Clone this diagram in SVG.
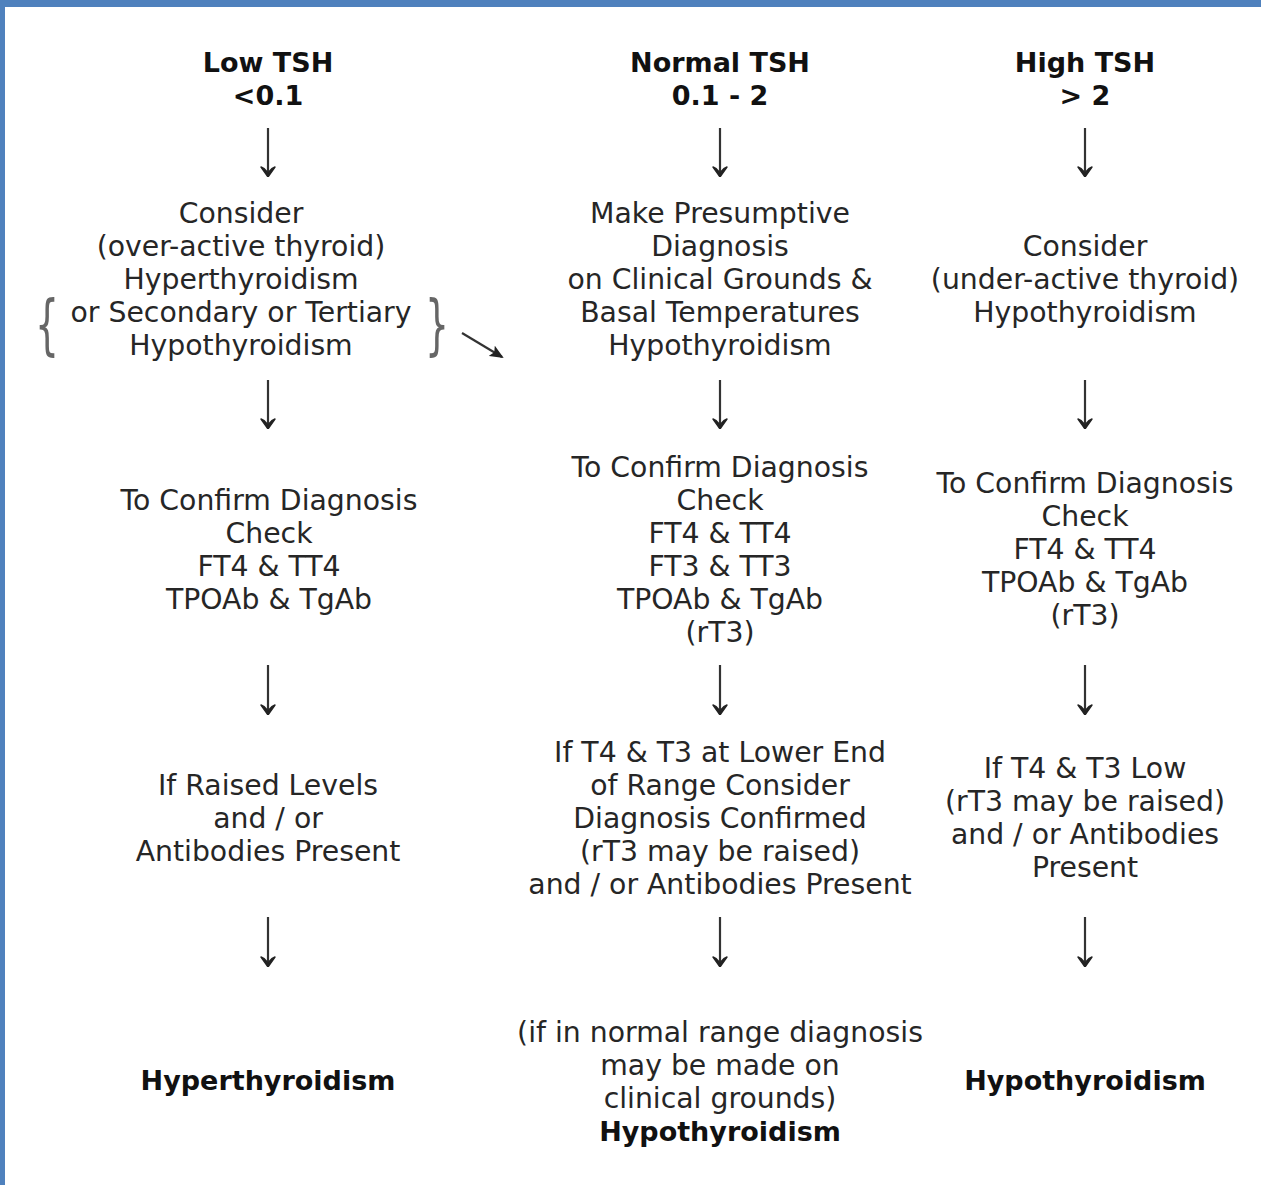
<svg xmlns="http://www.w3.org/2000/svg" width="1261" height="1185" viewBox="0 0 1261 1185">
  <style>
    text { font-family: "DejaVu Sans", Verdana, sans-serif; font-size: 28.3px; text-anchor: middle; fill: #262626; }
    .b { font-weight: bold; fill: #111; font-size: 27px; }
    .brace { fill: #666; font-size: 27px; }
    .conn line { stroke: #333; stroke-width: 2.2; }
  </style>
  <defs>
    <marker id="head" markerWidth="14" markerHeight="12" refX="12" refY="6" orient="auto" markerUnits="userSpaceOnUse" viewBox="0 0 14 12">
      <path d="M0,0 L14,6 L0,12 L3,6 Z" fill="#222"/>
    </marker>
    <marker id="headDown" markerWidth="16" markerHeight="12" refX="8" refY="11" orient="0" markerUnits="userSpaceOnUse" viewBox="0 0 16 12">
      <path d="M1,2 Q8,5 8,12 Q8,5 15,2 L8,12 Z" fill="#222" stroke="#222" stroke-width="1.4" stroke-linejoin="round"/>
    </marker>
  </defs>

  <!-- page background and frame -->
  <rect x="0" y="0" width="1261" height="1185" fill="#ffffff"/>
  <rect x="0" y="0" width="1261" height="7" fill="#4f81bd"/>
  <rect x="0" y="0" width="5" height="1185" fill="#4f81bd"/>

  <!-- column headers -->
  <g id="low-tsh"><text class="b" x="268" y="72">Low TSH</text><text class="b" x="268" y="105">&lt;0.1</text></g>
  <g id="normal-tsh"><text class="b" x="720" y="72">Normal TSH</text><text class="b" x="720" y="105">0.1 - 2</text></g>
  <g id="high-tsh"><text class="b" x="1085" y="72">High TSH</text><text class="b" x="1085" y="105">&gt; 2</text></g>

  <!-- first step -->
  <g id="low-consider">
    <text x="241" y="223">Consider</text>
    <text x="241" y="256">(over-active thyroid)</text>
    <text x="241" y="289">Hyperthyroidism</text>
    <text x="241" y="322">or Secondary or Tertiary</text>
    <text x="241" y="355">Hypothyroidism</text>
    <text class="brace" transform="translate(47,347) scale(1.4,2.45)">{</text>
    <text class="brace" transform="translate(437,347) scale(1.4,2.45)">}</text>
  </g>
  <g id="normal-presumptive">
    <text x="720" y="223">Make Presumptive</text>
    <text x="720" y="256">Diagnosis</text>
    <text x="720" y="289">on Clinical Grounds &amp;</text>
    <text x="720" y="322">Basal Temperatures</text>
    <text x="720" y="355">Hypothyroidism</text>
  </g>
  <g id="high-consider">
    <text x="1085" y="256">Consider</text>
    <text x="1085" y="289">(under-active thyroid)</text>
    <text x="1085" y="322">Hypothyroidism</text>
  </g>

  <!-- confirmation tests -->
  <g id="low-confirm">
    <text x="269" y="510">To Confirm Diagnosis</text>
    <text x="269" y="543">Check</text>
    <text x="269" y="576">FT4 &amp; TT4</text>
    <text x="269" y="609">TPOAb &amp; TgAb</text>
  </g>
  <g id="normal-confirm">
    <text x="720" y="477">To Confirm Diagnosis</text>
    <text x="720" y="510">Check</text>
    <text x="720" y="543">FT4 &amp; TT4</text>
    <text x="720" y="576">FT3 &amp; TT3</text>
    <text x="720" y="609">TPOAb &amp; TgAb</text>
    <text x="720" y="642">(rT3)</text>
  </g>
  <g id="high-confirm">
    <text x="1085" y="493">To Confirm Diagnosis</text>
    <text x="1085" y="526">Check</text>
    <text x="1085" y="559">FT4 &amp; TT4</text>
    <text x="1085" y="592">TPOAb &amp; TgAb</text>
    <text x="1085" y="625">(rT3)</text>
  </g>

  <!-- result interpretation -->
  <g id="low-result">
    <text x="268" y="795">If Raised Levels</text>
    <text x="268" y="828">and / or</text>
    <text x="268" y="861">Antibodies Present</text>
  </g>
  <g id="normal-result">
    <text x="720" y="762">If T4 &amp; T3 at Lower End</text>
    <text x="720" y="795">of Range Consider</text>
    <text x="720" y="828">Diagnosis Confirmed</text>
    <text x="720" y="861">(rT3 may be raised)</text>
    <text x="720" y="894">and / or Antibodies Present</text>
  </g>
  <g id="high-result">
    <text x="1085" y="778">If T4 &amp; T3 Low</text>
    <text x="1085" y="811">(rT3 may be raised)</text>
    <text x="1085" y="844">and / or Antibodies</text>
    <text x="1085" y="877">Present</text>
  </g>

  <!-- outcomes -->
  <g id="low-outcome"><text class="b" x="268" y="1090">Hyperthyroidism</text></g>
  <g id="normal-outcome">
    <text x="720" y="1042">(if in normal range diagnosis</text>
    <text x="720" y="1075">may be made on</text>
    <text x="720" y="1108">clinical grounds)</text>
    <text class="b" x="720" y="1141">Hypothyroidism</text>
  </g>
  <g id="high-outcome"><text class="b" x="1085" y="1090">Hypothyroidism</text></g>

  <!-- connectors -->
  <g class="conn" id="connectors">
    <line x1="268" y1="128" x2="268" y2="176" marker-end="url(#headDown)"/>
    <line x1="720" y1="128" x2="720" y2="176" marker-end="url(#headDown)"/>
    <line x1="1085" y1="128" x2="1085" y2="176" marker-end="url(#headDown)"/>
    <line x1="268" y1="380" x2="268" y2="428" marker-end="url(#headDown)"/>
    <line x1="720" y1="380" x2="720" y2="428" marker-end="url(#headDown)"/>
    <line x1="1085" y1="380" x2="1085" y2="428" marker-end="url(#headDown)"/>
    <line x1="268" y1="665" x2="268" y2="714" marker-end="url(#headDown)"/>
    <line x1="720" y1="665" x2="720" y2="714" marker-end="url(#headDown)"/>
    <line x1="1085" y1="665" x2="1085" y2="714" marker-end="url(#headDown)"/>
    <line x1="268" y1="917" x2="268" y2="966" marker-end="url(#headDown)"/>
    <line x1="720" y1="917" x2="720" y2="966" marker-end="url(#headDown)"/>
    <line x1="1085" y1="917" x2="1085" y2="966" marker-end="url(#headDown)"/>
    <line x1="462" y1="333" x2="502" y2="357" stroke-width="1.8" marker-end="url(#head)"/>
  </g>
</svg>
